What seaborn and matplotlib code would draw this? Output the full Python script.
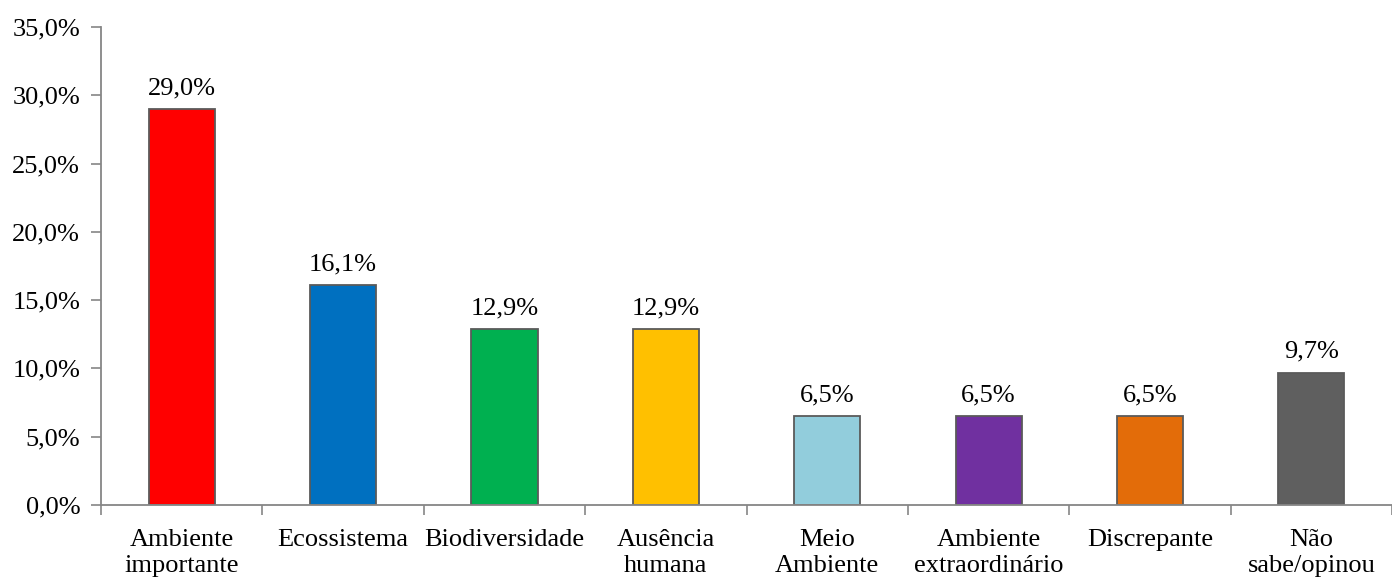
import matplotlib
matplotlib.use("Agg")
import matplotlib.pyplot as plt
import seaborn as sns
import pandas as pd
from matplotlib.ticker import FuncFormatter, FixedLocator

categories = [
    "Ambiente\nimportante", "Ecossistema", "Biodiversidade", "Ausência\nhumana",
    "Meio\nAmbiente", "Ambiente\nextraordinário", "Discrepante", "Não\nsabe/opinou",
]
values = [29.0, 16.1, 12.9, 12.9, 6.5, 6.5, 6.5, 9.7]
colors = ["#FF0000", "#0070C0", "#00B050", "#FFC000",
          "#92CDDC", "#7030A0", "#E36C09", "#5F5F5F"]

sns.set_theme(style="white")
plt.rcParams["font.family"] = ["Liberation Serif", "DejaVu Serif"]

FS = 19

df = pd.DataFrame({"cat": categories, "val": values})

fig = plt.figure(figsize=(13.92, 5.8), dpi=100)
ax = fig.add_axes([0.0726, 0.1293, 0.9274, 0.8241])

sns.barplot(data=df, x="cat", y="val", hue="cat", palette=colors,
            width=0.41, edgecolor="#5A5A5A", linewidth=1.3, legend=False,
            saturation=1, ax=ax)

ax.set_ylim(0, 35)
ax.set_xlim(-0.5, len(categories) - 0.5)
ax.set_yticks([0, 5, 10, 15, 20, 25, 30, 35])
ax.yaxis.set_major_formatter(FuncFormatter(lambda v, p: f"{v:.1f}%".replace(".", ",")))
ax.set_xlabel("")
ax.set_ylabel("")

# category labels centred, ticks drawn on the boundaries between categories
ax.tick_params(axis="x", which="major", length=0, pad=17, labelsize=FS,
               labelcolor="black")
ax.xaxis.set_minor_locator(FixedLocator([i - 0.5 for i in range(len(categories) + 1)]))
ax.tick_params(axis="x", which="minor", length=7, width=1.2, color="#868686",
               direction="out", bottom=True)
ax.tick_params(axis="y", length=7, width=1.2, color="#868686", direction="out",
               left=True, labelsize=FS, labelcolor="black", pad=8)
for lbl in ax.get_xticklabels():
    lbl.set_linespacing(1.25)

for side in ["top", "right"]:
    ax.spines[side].set_visible(False)
for side in ["left", "bottom"]:
    ax.spines[side].set_color("#868686")
    ax.spines[side].set_linewidth(1.3)

for cont in ax.containers:
    ax.bar_label(cont, labels=[f"{v:.1f}%".replace(".", ",") for v in cont.datavalues],
                 padding=7, fontsize=FS, color="black")

fig.savefig("out.png", dpi=100)
